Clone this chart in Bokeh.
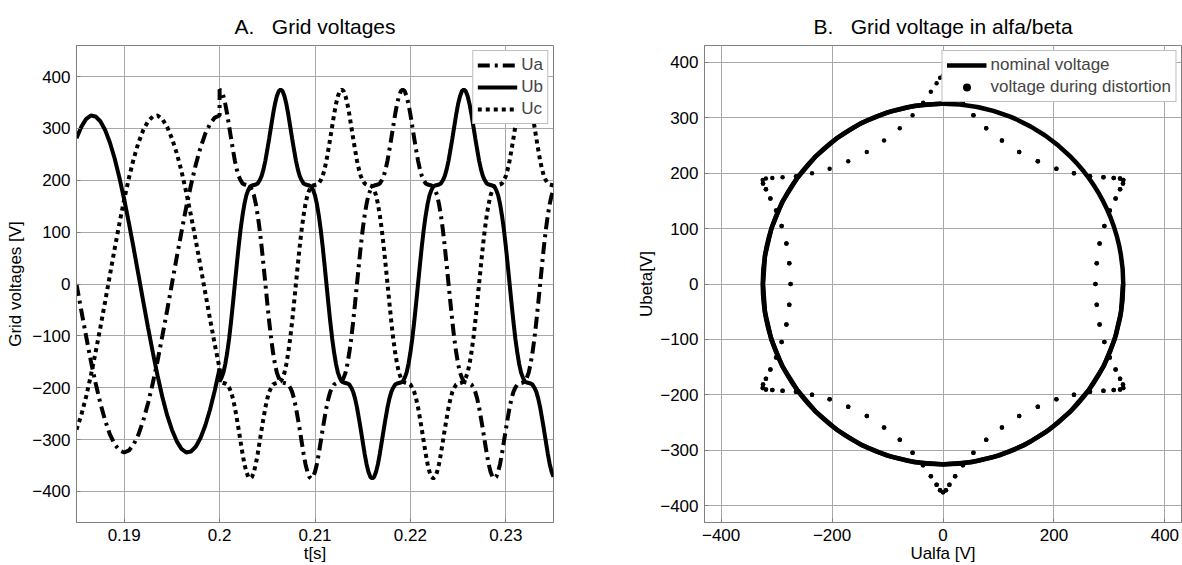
import numpy as np
from bokeh.plotting import figure
from bokeh.layouts import row
from bokeh.models import Legend, LegendItem, FixedTicker, ColumnDataSource
from bokeh.embed import file_html
from bokeh.resources import INLINE

# ---------------- data ----------------
# sample times (s): nominal part every 0.5 ms, distorted part every 0.2 ms
t_pre = [round(0.185 + 0.0005 * i, 4) for i in range(31)]
t_dist = [round(0.2 + 0.0002 * i, 4) for i in range(176)]

# nominal (undistorted) phase voltages, 0.185 .. 0.200 s
ua_pre = [0, -51, -100, -148, -191, -230, -263, -290, -309, -321, -325, -321, -309, -290, -263, -230,
          -191, -148, -100, -51, 0, 51, 100, 148, 191, 230, 263, 290, 309, 321, 325]
ub_pre = [281, 303, 318, 325, 323, 314, 297, 273, 242, 205, 163, 117, 68, 17, -34, -84,
          -132, -177, -218, -253, -281, -303, -318, -325, -323, -314, -297, -273, -242, -205, -163]
uc_pre = [-281, -253, -218, -177, -132, -84, -34, 17, 68, 117, 163, 205, 242, 273, 297, 314,
          323, 325, 318, 303, 281, 253, 218, 177, 132, 84, 34, -17, -68, -117, -163]

# distorted phase voltages, 0.200 .. 0.235 s
ua_dist = [375, 372, 362, 347, 327, 304, 281, 259, 238, 221, 208, 200, 194, 192, 191, 190, 188, 181, 171, 154, 132, 105, 73, 37, 0,
           -37, -73, -105, -132, -154, -171, -181, -188, -190, -191, -192, -194, -200, -208, -221, -238, -259, -281, -304, -327, -347, -362, -372, -375,
           -372, -362, -347, -327, -304, -281, -259, -238, -221, -208, -200, -194, -192, -191, -190, -188, -181, -171, -154, -132, -105, -73, -37, 0,
           37, 73, 105, 132, 154, 171, 181, 188, 190, 191, 192, 194, 200, 208, 221, 238, 259, 281, 304, 327, 347, 362, 372,
           375, 372, 362, 347, 327, 304, 281, 259, 238, 221, 208, 200, 194, 192, 191, 190, 188, 181, 171, 154, 132, 105, 73, 37, 0,
           -37, -73, -105, -132, -154, -171, -181, -188, -190, -191, -192, -194, -200, -208, -221, -238, -259, -281, -304, -327, -347, -362, -372, -375,
           -372, -362, -347, -327, -304, -281, -259, -238, -221, -208, -200, -194, -192, -191, -190, -188, -181, -171, -154, -132, -105, -73, -37, 0,
           37, 73, 105, 132, 154, 171, 181]
ub_dist = [-188, -181, -171, -154, -132, -105, -73, -37, 0,
           37, 73, 105, 132, 154, 171, 181, 188, 190, 191, 192, 194, 200, 208, 221, 238, 259, 281, 304, 327, 347, 362, 372,
           375, 372, 362, 347, 327, 304, 281, 259, 238, 221, 208, 200, 194, 192, 191, 190, 188, 181, 171, 154, 132, 105, 73, 37, 0,
           -37, -73, -105, -132, -154, -171, -181, -188, -190, -191, -192, -194, -200, -208, -221, -238, -259, -281, -304, -327, -347, -362, -372, -375,
           -372, -362, -347, -327, -304, -281, -259, -238, -221, -208, -200, -194, -192, -191, -190, -188, -181, -171, -154, -132, -105, -73, -37, 0,
           37, 73, 105, 132, 154, 171, 181, 188, 190, 191, 192, 194, 200, 208, 221, 238, 259, 281, 304, 327, 347, 362, 372,
           375, 372, 362, 347, 327, 304, 281, 259, 238, 221, 208, 200, 194, 192, 191, 190, 188, 181, 171, 154, 132, 105, 73, 37, 0,
           -37, -73, -105, -132, -154, -171, -181, -188, -190, -191, -192, -194, -200, -208, -221, -238, -259, -281, -304, -327, -347, -362, -372]
uc_dist = [-188, -190, -191, -192, -194, -200, -208, -221, -238, -259, -281, -304, -327, -347, -362, -372, -375,
           -372, -362, -347, -327, -304, -281, -259, -238, -221, -208, -200, -194, -192, -191, -190, -188, -181, -171, -154, -132, -105, -73, -37, 0,
           37, 73, 105, 132, 154, 171, 181, 188, 190, 191, 192, 194, 200, 208, 221, 238, 259, 281, 304, 327, 347, 362, 372,
           375, 372, 362, 347, 327, 304, 281, 259, 238, 221, 208, 200, 194, 192, 191, 190, 188, 181, 171, 154, 132, 105, 73, 37, 0,
           -37, -73, -105, -132, -154, -171, -181, -188, -190, -191, -192, -194, -200, -208, -221, -238, -259, -281, -304, -327, -347, -362, -372, -375,
           -372, -362, -347, -327, -304, -281, -259, -238, -221, -208, -200, -194, -192, -191, -190, -188, -181, -171, -154, -132, -105, -73, -37, 0,
           37, 73, 105, 132, 154, 171, 181, 188, 190, 191, 192, 194, 200, 208, 221, 238, 259, 281, 304, 327, 347, 362, 372,
           375, 372, 362, 347, 327, 304, 281, 259, 238, 221, 208, 200, 194, 192, 191, 190]

u_nominal = 325  # nominal amplitude (radius of the alfa/beta circle)

t_ticks = [0.19, 0.2, 0.21, 0.22, 0.23]
t_tick_labels = ["0.19", "0.2", "0.21", "0.22", "0.23"]
u_ticks = [-400, -300, -200, -100, 0, 100, 200, 300, 400]
ab_x_ticks = [-400, -200, 0, 200, 400]
ab_y_ticks = [-400, -300, -200, -100, 0, 100, 200, 300, 400]

NB = "\u00a0"
title_a = "A." + NB * 3 + "Grid voltages"
title_b = "B." + NB * 3 + "Grid voltage in alfa/beta"

# ---------------- derived ----------------
t_all = t_pre + t_dist
ua = ua_pre + ua_dist
ub = ub_pre + ub_dist
uc = uc_pre + uc_dist

def clarke(a, b, c):
    a, b, c = np.array(a, float), np.array(b, float), np.array(c, float)
    return (b - c) / np.sqrt(3.0), (2 * a - b - c) / 3.0

alfa_dist, beta_dist = clarke(ua_dist, ub_dist, uc_dist)
alfa_pre, beta_pre = clarke(ua_pre, ub_pre, uc_pre)

FONT = "Liberation Sans"
GRID = "#a8a8a8"
AX = "#808080"


def style(p, ylabel_standoff):
    p.title.text_font = FONT
    p.title.text_font_size = "21px"
    p.title.text_font_style = "normal"
    p.title.align = "center"
    p.title.text_color = "black"
    p.title.standoff = 16
    p.outline_line_color = AX
    p.outline_line_width = 1
    for ax in (p.xaxis[0], p.yaxis[0]):
        ax.axis_line_color = AX
        ax.major_tick_line_color = AX
        ax.major_tick_in = 4
        ax.major_tick_out = 0
        ax.minor_tick_line_color = None
        ax.major_label_text_font = FONT
        ax.major_label_text_font_size = "17px"
        ax.major_label_text_color = "black"
        ax.axis_label_text_font = FONT
        ax.axis_label_text_font_size = "17px"
        ax.axis_label_text_font_style = "normal"
        ax.axis_label_text_color = "black"
    p.xaxis.major_label_standoff = 6
    p.xaxis.axis_label_standoff = 0
    p.yaxis.major_label_standoff = 6
    p.yaxis.axis_label_standoff = ylabel_standoff
    p.grid.grid_line_color = GRID
    p.grid.grid_line_width = 1
    p.background_fill_color = "white"
    p.border_fill_color = "white"


def style_legend(leg):
    leg.label_text_font = FONT
    leg.label_text_font_size = "17px"
    leg.glyph_width = 40
    leg.glyph_height = 20
    leg.label_height = 20
    leg.spacing = 2
    leg.padding = 4
    leg.margin = 5
    leg.label_standoff = 4
    leg.border_line_color = AX
    leg.background_fill_alpha = 1


# ---------------- A: grid voltages ----------------
p1 = figure(width=620, height=565, x_range=(0.185, 0.235), y_range=(-460, 460),
            output_backend="svg", toolbar_location=None, title=title_a,
            min_border_left=76, min_border_right=67, min_border_top=45, min_border_bottom=42)
style(p1, 4)
p1.xaxis.ticker = FixedTicker(ticks=t_ticks)
p1.xaxis.major_label_overrides = {tk: lb for tk, lb in zip(t_ticks, t_tick_labels)}
p1.yaxis.ticker = FixedTicker(ticks=u_ticks)
p1.xaxis.axis_label = "t[s]"
p1.yaxis.axis_label = "Grid voltages [V]"

src = ColumnDataSource(dict(t=t_all, ua=ua, ub=ub, uc=uc))
r_ua = p1.line("t", "ua", source=src, line_color="black", line_width=4, line_dash="12 5 3 5")
r_ub = p1.line("t", "ub", source=src, line_color="black", line_width=4)
r_uc = p1.line("t", "uc", source=src, line_color="black", line_width=4, line_dash="4 4")

leg1 = Legend(items=[LegendItem(label="Ua", renderers=[r_ua]),
                     LegendItem(label="Ub", renderers=[r_ub]),
                     LegendItem(label="Uc", renderers=[r_uc])],
              location="top_right")
style_legend(leg1)
p1.add_layout(leg1)

# ---------------- B: alfa / beta ----------------
p2 = figure(width=562, height=565, x_range=(-430, 430), y_range=(-430, 430),
            output_backend="svg", toolbar_location=None, title=title_b,
            min_border_left=84, min_border_right=1, min_border_top=45, min_border_bottom=42)
style(p2, 1)
p2.xaxis.ticker = FixedTicker(ticks=ab_x_ticks)
p2.yaxis.ticker = FixedTicker(ticks=ab_y_ticks)
p2.xaxis.axis_label = "Ualfa [V]"
p2.yaxis.axis_label = "Ubeta[V]"

# nominal trajectory: full circle of nominal amplitude + the nominal samples on it
p2.circle(x=[0], y=[0], radius=[u_nominal], fill_color=None, line_color="black", line_width=4.5)
r_nom = p2.line(x=alfa_pre, y=beta_pre, line_color="black", line_width=4.5)
r_dist = p2.scatter(x=alfa_dist, y=beta_dist, size=4.5, marker="circle", fill_color="black", line_color=None)

leg2 = Legend(items=[LegendItem(label="nominal voltage", renderers=[r_nom]),
                     LegendItem(label="voltage during distortion", renderers=[r_dist])],
              location="top_right")
style_legend(leg2)
p2.add_layout(leg2)

layout = row(p1, p2)
open("out.html", "w").write(file_html(layout, INLINE))
